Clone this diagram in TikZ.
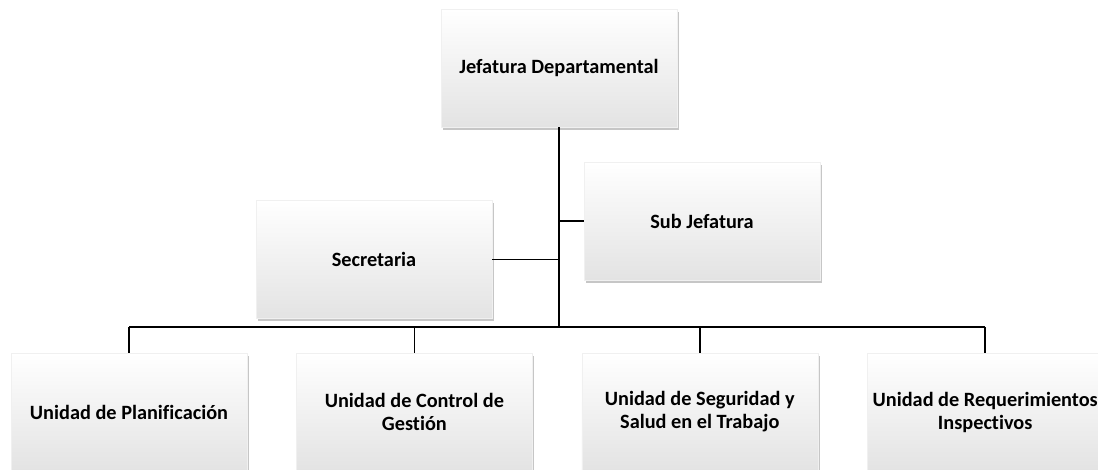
\documentclass[tikz,border=0pt]{standalone}
\usepackage{fontspec}
\setmainfont[Ligatures=NoCommon]{Carlito}
\usetikzlibrary{positioning,shadows}
\tikzset{
  orgbox/.style={
    rectangle,
    draw=gray!12,
    line width=0.4pt,
    top color=white,
    middle color=white,
    bottom color=gray!22,
    align=center,
    minimum width=236pt,
    minimum height=118pt,
    font=\bfseries\fontsize{20.3}{23}\selectfont,
    drop shadow={shadow xshift=2pt, shadow yshift=-3pt, opacity=0.45, fill=gray}
  },
  link/.style={line width=1.5pt, draw=black}
}
\begin{document}
\begin{tikzpicture}[x=1pt, y=1pt, node distance=49pt]
  \useasboundingbox (0,0) rectangle (1098,-470);

  \node[orgbox] (jefatura) at (559,-68) {Jefatura Departamental};
  \node[orgbox] (secretaria) at (374,-259.5) {Secretaria};
  \node[orgbox] (subjefatura) at (702,-221) {Sub Jefatura};

  \node[orgbox] (planif) at (129,-412) {Unidad de Planificación};
  \node[orgbox, right=of planif] (control) {Unidad de Control de\\Gestión};
  \node[orgbox, right=of control] (seguridad) {Unidad de Seguridad y\\Salud en el Trabajo};
  \node[orgbox, right=of seguridad] (requer) {Unidad de Requerimientos\\Inspectivos};

  \coordinate (bus) at (0,-327);

  \draw[link] (jefatura.south) -- (jefatura.south |- bus);
  \draw[link] (secretaria.east) -- (secretaria.east -| jefatura.south);
  \draw[link] (subjefatura.west) -- (subjefatura.west -| jefatura.south);
  \draw[link] (planif.north |- bus) -- (requer.north |- bus);
  \foreach \u in {planif,control,seguridad,requer}
    \draw[link] (\u.north |- bus) -- (\u.north);
\end{tikzpicture}
\end{document}
